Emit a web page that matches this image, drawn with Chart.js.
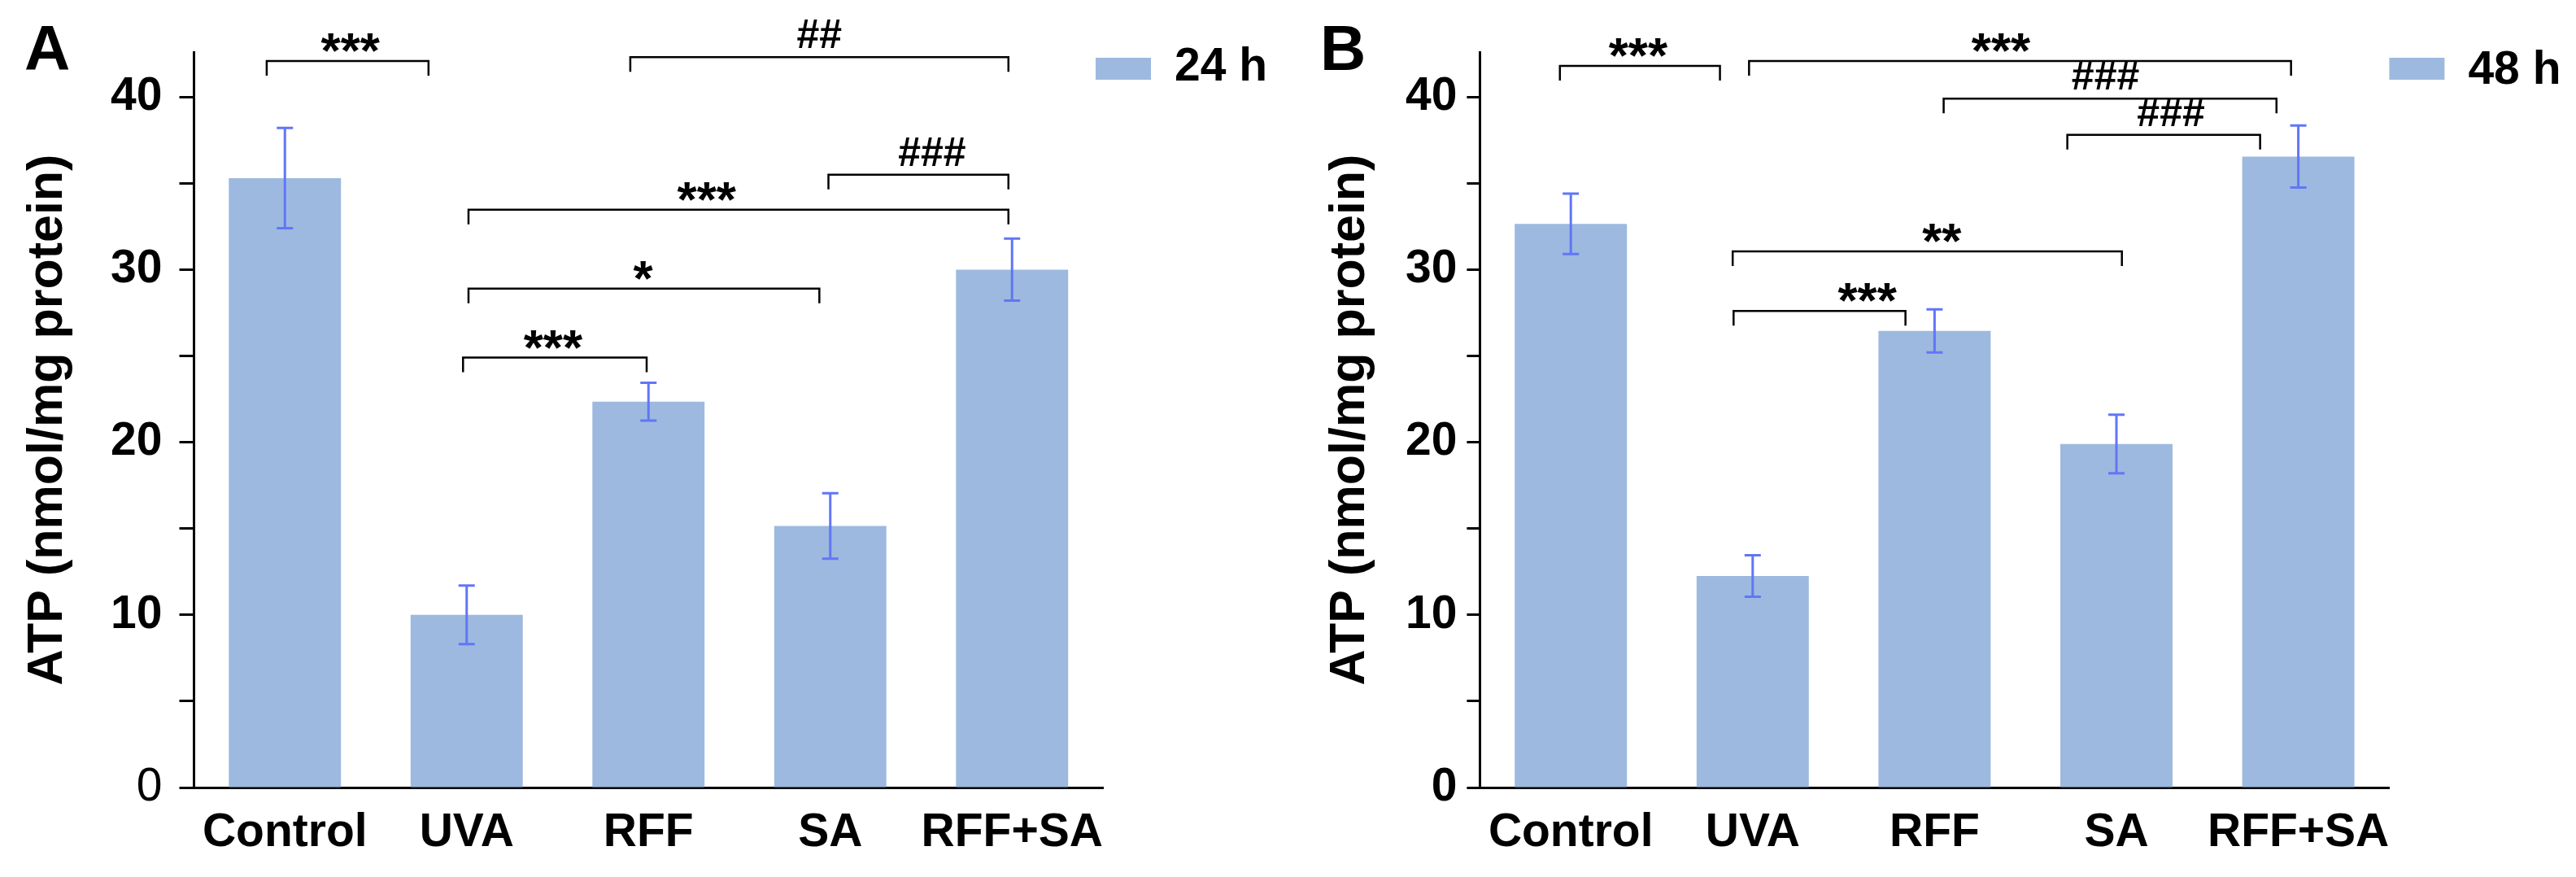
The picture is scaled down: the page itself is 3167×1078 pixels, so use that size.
<!DOCTYPE html>
<html>
<head>
<meta charset="utf-8">
<script src="https://cdn.jsdelivr.net/npm/chart.js@4.4.1/dist/chart.umd.min.js"></script>
<style>
  body { margin: 0; background: #fff; }
  canvas { position: absolute; top: 0; }
</style>
</head>
<body>
<canvas id="chartA" style="left:0px" width="1580" height="1078"></canvas>
<canvas id="chartB" style="left:1580px" width="1587" height="1078"></canvas>
<script>
// data
var categories = ["Control", "UVA", "RFF", "SA", "RFF+SA"];
var atp24 = [35.3, 10.0, 22.35, 15.15, 30.0];
var sem24 = [2.9, 1.7, 1.1, 1.9, 1.8];
var atp48 = [32.65, 12.25, 26.45, 19.9, 36.55];
var sem48 = [1.75, 1.2, 1.25, 1.7, 1.8];
var yMax = 42.6;
var yStep = 5;

// significance brackets: [from, to, level, label, label position] (category index units)
var brackets24 = [
    [-0.10, 0.79, 42.08, "***", 0.36],
    [1.90, 3.98, 42.3, "##", 2.94],
    [2.99, 3.98, 35.5, "###", 3.56],
    [1.01, 3.98, 33.47, "***", 2.32],
    [1.01, 2.94, 28.9, "*", 1.97],
    [0.98, 1.99, 24.9, "***", 1.475],
];
var brackets48 = [
    [-0.06, 0.82, 41.8, "***", 0.37],
    [0.98, 3.96, 42.08, "***", 2.365],
    [2.05, 3.88, 39.9, "###", 2.94],
    [2.73, 3.79, 37.8, "###", 3.30],
    [0.89, 3.03, 31.05, "**", 2.04],
    [0.895, 1.84, 27.6, "***", 1.63],
];

var FONT = "'Liberation Sans', Arial, sans-serif";
var barColor = "#9db9df";
var errColor = "#6176f7";

//error bars on top of the bars
var errorBars = {
    id: "errorBars",
    afterDatasetsDraw(chart, args, opts) {
        var ctx = chart.ctx;
        var y = chart.scales.y;
        var vals = chart.data.datasets[0].data;
        ctx.save();
        ctx.strokeStyle = errColor;
        ctx.lineWidth = 3;
        chart.getDatasetMeta(0).data.forEach((bar, i) => {
            var top = y.getPixelForValue(vals[i] + opts.errors[i]);
            var bot = y.getPixelForValue(vals[i] - opts.errors[i]);
            ctx.beginPath();
            ctx.moveTo(bar.x, top);
            ctx.lineTo(bar.x, bot);
            ctx.moveTo(bar.x - 10, top);
            ctx.lineTo(bar.x + 10, top);
            ctx.moveTo(bar.x - 10, bot);
            ctx.lineTo(bar.x + 10, bot);
            ctx.stroke();
        });
        ctx.restore();
    },
};

//brackets with stars / hashes
var sigMarks = {
    id: "sigMarks",
    afterDraw(chart, args, opts) {
        var ctx = chart.ctx;
        var x = chart.scales.x;
        var y = chart.scales.y;
        ctx.save();
        ctx.strokeStyle = "#000";
        ctx.fillStyle = "#000";
        ctx.lineWidth = 2.5;
        opts.brackets.forEach((b) => {
            var x1 = x.getPixelForValue(b[0]);
            var x2 = x.getPixelForValue(b[1]);
            var yy = y.getPixelForValue(b[2]);
            ctx.beginPath();
            ctx.moveTo(x1, yy + 18);
            ctx.lineTo(x1, yy);
            ctx.lineTo(x2, yy);
            ctx.lineTo(x2, yy + 18);
            ctx.stroke();
            var size = b[3].charAt(0) == "#" ? 50 : 62;
            ctx.font = "bold " + size + "px " + FONT;
            ctx.textAlign = "center";
            ctx.textBaseline = "alphabetic";
            var m = ctx.measureText(b[3]);
            ctx.fillText(b[3], x.getPixelForValue(b[4]), yy - 11 - m.actualBoundingBoxDescent);
        });
        ctx.restore();
    },
};

//panel letter and legend
var panelDeco = {
    id: "panelDeco",
    afterDraw(chart, args, opts) {
        var ctx = chart.ctx;
        var area = chart.chartArea;
        ctx.save();
        ctx.fillStyle = "#000";
        ctx.textAlign = "left";
        ctx.textBaseline = "alphabetic";
        ctx.font = "bold 78px " + FONT;
        ctx.fillText(opts.letter, opts.letterX, 86);

        var bx = area.right + opts.legendDx;
        ctx.fillStyle = chart.data.datasets[0].backgroundColor;
        ctx.fillRect(bx, 71, 68, 27);
        ctx.fillStyle = "#000";
        ctx.font = "bold 57px " + FONT;
        ctx.fillText(chart.data.datasets[0].label, bx + 97, opts.legendBase);
        ctx.restore();
    },
};

function makeChart(id, values, errors, label, brackets, p) {
    return new Chart(document.getElementById(id), {
        type: "bar",
        data: {
            labels: categories,
            datasets: [{
                label: label,
                data: values,
                backgroundColor: barColor,
                borderWidth: 0,
                barPercentage: 0.617,
                categoryPercentage: 1.0,
            }, ],
        },
        options: {
            responsive: false,
            animation: false,
            layout: {
                padding: { top: 64, left: 0, right: p.padRight, bottom: 0 },
            },
            plugins: {
                legend: { display: false },
                tooltip: { enabled: false },
                errorBars: { errors: errors },
                sigMarks: { brackets: brackets },
                panelDeco: { letter: p.letter, letterX: p.letterX, legendDx: p.legendDx, legendBase: p.legendBase },
            },
            scales: {
                x: {
                    afterFit: (s) => { s.height = 110; },
                    grid: { display: true, drawOnChartArea: false, drawTicks: false },
                    border: { display: true, color: "#000", width: 3 },
                    ticks: {
                        color: "#000",
                        padding: 22,
                        autoSkip: false,
                        maxRotation: 0,
                        minRotation: 0,
                        font: { family: FONT, size: 57, weight: "bold" },
                    },
                },
                y: {
                    min: 0,
                    max: yMax,
                    afterFit: (s) => { s.width = p.axisLeft; },
                    grid: {
                        drawOnChartArea: false,
                        drawTicks: true,
                        tickLength: p.tickLen,
                        tickWidth: 3,
                        tickColor: "#000",
                    },
                    border: { display: true, color: "#000", width: 3 },
                    ticks: {
                        stepSize: yStep,
                        includeBounds: false,
                        color: "#000",
                        padding: p.tickPad,
                        font: (c) => ({
                            family: FONT,
                            size: 57,
                            weight: c.tick && c.tick.value === 0 && p.thinZero ? "normal" : "bold",
                        }),
                        callback: (v) => (v % 10 === 0 ? v : ""),
                    },
                    title: {
                        display: true,
                        text: "ATP (nmol/mg protein)",
                        color: "#000",
                        padding: { top: p.titlePad, bottom: 0 },
                        font: { family: FONT, size: 61, weight: "bold" },
                    },
                },
            },
        },
        plugins: [errorBars, sigMarks, panelDeco],
    });
}

var chartA = makeChart("chartA", atp24, sem24, "24 h", brackets24, {
    padRight: 224, axisLeft: 238.5, tickLen: 18, tickPad: 21, titlePad: 23,
    thinZero: true, letter: "A", letterX: 30, legendDx: -9, legendBase: 99,
});
var chartB = makeChart("chartB", atp48, sem48, "48 h", brackets48, {
    padRight: 229.6, axisLeft: 239.4, tickLen: 16, tickPad: 12, titlePad: 44,
    thinZero: false, letter: "B", letterX: 43, legendDx: 0, legendBase: 103,
});
</script>
</body>
</html>
